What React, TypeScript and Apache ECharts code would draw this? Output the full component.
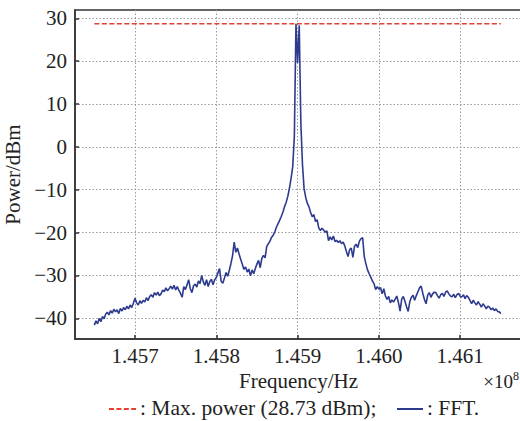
import React, { useEffect, useRef } from "react";
import * as echarts from "echarts";

// FFT bins: start frequency and bin spacing (Hz)
const FREQ_START_HZ = 145650000;
const FREQ_STEP_HZ = 2000;

// FFT power per bin (dBm)
const POWER_DBM = [
  -41.6, -40.6, -41.3, -40.0, -40.8, -39.6, -40.1, -39.0, -38.6, -39.2,
  -38.2, -38.8, -37.9, -38.5, -38.0, -38.9, -37.7, -38.3, -37.5, -38.0,
  -37.2, -37.8, -36.9, -37.5, -36.5, -35.3, -36.4, -36.9, -35.9, -36.5,
  -35.8, -36.2, -35.2, -35.9, -34.9, -34.5, -35.1, -34.0, -34.6, -33.9,
  -34.7, -34.3, -33.4, -33.8, -32.9, -33.6, -33.1, -32.5, -33.2, -32.3,
  -33.4, -32.6, -33.5, -34.2, -35.1, -32.6, -33.3, -32.2, -31.0, -33.1,
  -34.0, -32.4, -32.0, -32.7, -31.3, -31.9, -30.0, -31.5, -32.3, -31.0,
  -32.6, -31.4, -30.9, -32.2, -31.0, -30.5, -29.4, -28.4, -31.4, -31.8,
  -30.6, -29.3, -30.2, -28.8, -27.2, -25.4, -22.2, -24.6, -23.6, -25.0,
  -26.2, -27.4, -28.6, -28.0, -29.2, -28.5, -30.1, -28.7, -29.6, -28.4,
  -27.3, -26.5, -28.2, -26.0, -25.3, -25.9, -23.3, -22.6, -22.0, -21.1,
  -20.6, -19.8, -18.7, -17.9, -17.1, -16.2, -15.2, -13.9, -12.9, -11.5,
  -9.6, -7.3, -4.6, 2.5, 28.73, 19.6, 28.4, 5.5, -4.2, -9.8,
  -11.8, -13.2, -14.0, -15.3, -16.3, -15.8, -17.4, -17.0, -18.9, -19.5,
  -19.0, -19.4, -19.9, -19.6, -21.9, -21.0, -21.7, -20.8, -22.1, -21.8,
  -22.3, -21.9, -22.6, -22.2, -23.1, -24.4, -25.6, -24.0, -23.6, -25.8,
  -23.2, -22.7, -23.5, -22.0, -21.4, -21.2, -25.6, -27.3, -28.7, -29.6,
  -30.4, -31.3, -31.9, -33.3, -32.6, -33.2, -32.8, -34.3, -33.1, -34.8,
  -35.6, -34.9, -36.4, -35.7, -36.2, -35.5, -34.8, -36.3, -38.3, -35.6,
  -34.9, -36.0, -37.3, -38.4, -36.1, -35.1, -34.6, -35.8, -34.7, -33.8,
  -32.9, -32.5, -34.2, -35.6, -36.6, -34.6, -34.0, -35.1, -34.3, -33.9,
  -34.0, -34.7, -35.3, -34.5, -34.2, -34.9, -33.9, -33.6, -34.3, -34.8,
  -35.0, -34.4, -35.2, -34.5, -34.2, -34.9, -35.0, -34.5, -35.4, -34.7,
  -35.1, -35.8, -36.6, -35.8, -36.4, -36.9, -36.1, -36.7, -37.4, -36.6,
  -37.1, -37.8, -37.2, -37.4, -38.0, -37.6, -38.2, -37.8, -38.4, -38.5,
  -38.9,
];

const MAX_POWER_DBM = 28.73;

const X_TICKS_HZ = [145700000, 145800000, 145900000, 146000000, 146100000];
const Y_TICKS = [-40, -30, -20, -10, 0, 10, 20, 30];
const X_MIN = 145626200;
const X_MAX = 146176000;
const Y_MIN = -44.83;
const Y_MAX = 31.94;

const LEGEND_MAX = ": Max. power (28.73 dBm);";
const LEGEND_FFT = ": FFT.";

const FONT = "'Liberation Serif', 'Times New Roman', serif";
const FFT_COLOR = "#2d3b8e";
const MAX_COLOR = "#e4402f";

export default function App() {
  const ref = useRef<HTMLDivElement>(null);
  useEffect(() => {
    if (!ref.current) return;
    const chart = echarts.init(ref.current, null, { renderer: "svg" });
    const fft = POWER_DBM.map((p, i) => [FREQ_START_HZ + i * FREQ_STEP_HZ, p]);
    const fEnd = FREQ_START_HZ + (POWER_DBM.length - 1) * FREQ_STEP_HZ;
    const axisText = { fontFamily: FONT, fontSize: 21, color: "#222" };
    chart.setOption({
      animation: false,
      grid: {
        left: 75,
        top: 10,
        right: -2,
        bottom: 82,
        containLabel: false,
        outerBoundsMode: "none",
        show: true,
        borderColor: "#333",
        borderWidth: 1.5,
      },
      xAxis: {
        type: "value",
        min: X_MIN,
        max: X_MAX,
        name: "Frequency/Hz",
        nameLocation: "middle",
        nameGap: 30,
        nameTextStyle: axisText,
        axisLine: { onZero: false, lineStyle: { color: "#333", width: 1.5 } },
        axisTick: {
          inside: true,
          length: 4,
          customValues: X_TICKS_HZ,
          lineStyle: { color: "#333", width: 1.5 },
        },
        axisLabel: {
          customValues: X_TICKS_HZ,
          formatter: (v: number) => (v / 1e8).toFixed(3),
          margin: 6,
          ...axisText,
        },
        splitLine: {
          show: true,
          lineStyle: { type: [1.5, 2], color: "#999", width: 1 },
        },
      },
      yAxis: {
        type: "value",
        min: Y_MIN,
        max: Y_MAX,
        name: "Power/dBm",
        nameLocation: "middle",
        nameGap: 40,
        nameTextStyle: axisText,
        axisLine: { onZero: false, lineStyle: { color: "#333", width: 1.5 } },
        axisTick: {
          inside: true,
          length: 4,
          customValues: Y_TICKS,
          lineStyle: { color: "#333", width: 1.5 },
        },
        axisLabel: {
          customValues: Y_TICKS,
          formatter: (v: number) => (v < 0 ? "\u2212" + Math.abs(v) : String(v)),
          margin: 8,
          ...axisText,
        },
        splitLine: {
          show: true,
          lineStyle: { type: [1.5, 2], color: "#999", width: 1 },
        },
      },
      series: [
        {
          type: "line",
          name: "FFT",
          data: fft,
          showSymbol: false,
          lineStyle: { color: FFT_COLOR, width: 1.6 },
          z: 3,
        },
        {
          type: "line",
          name: "Max. power",
          data: [
            [FREQ_START_HZ, MAX_POWER_DBM],
            [fEnd, MAX_POWER_DBM],
          ],
          showSymbol: false,
          lineStyle: { color: MAX_COLOR, width: 1.6, type: [5, 2.5] },
          z: 4,
        },
      ],
      graphic: [
        {
          type: "line",
          shape: { x1: 109, y1: 409, x2: 136, y2: 409 },
          style: { stroke: MAX_COLOR, lineWidth: 2, lineDash: [5, 2.4] },
        },
        {
          type: "text",
          left: 140,
          top: 397,
          style: { text: LEGEND_MAX, font: `21.5px ${FONT}`, fill: "#222" },
        },
        {
          type: "line",
          shape: { x1: 397, y1: 409, x2: 423, y2: 409 },
          style: { stroke: FFT_COLOR, lineWidth: 2 },
        },
        {
          type: "text",
          left: 427,
          top: 397,
          style: { text: LEGEND_FFT, font: `21.5px ${FONT}`, fill: "#222" },
        },
        {
          type: "text",
          right: 1,
          top: 370,
          style: {
            text: "{a|\u00d710}{b|8}",
            rich: {
              a: { fontFamily: FONT, fontSize: 19, fill: "#222", verticalAlign: "bottom" },
              b: { fontFamily: FONT, fontSize: 12, fill: "#222", verticalAlign: "top", padding: [0, 0, 9, 0] },
            },
          },
        },
      ],
    });
    return () => chart.dispose();
  }, []);
  return (
    <div
      ref={ref}
      style={{ position: "fixed", left: 0, top: 0, width: 520, height: 421, background: "#fff" }}
    />
  );
}
